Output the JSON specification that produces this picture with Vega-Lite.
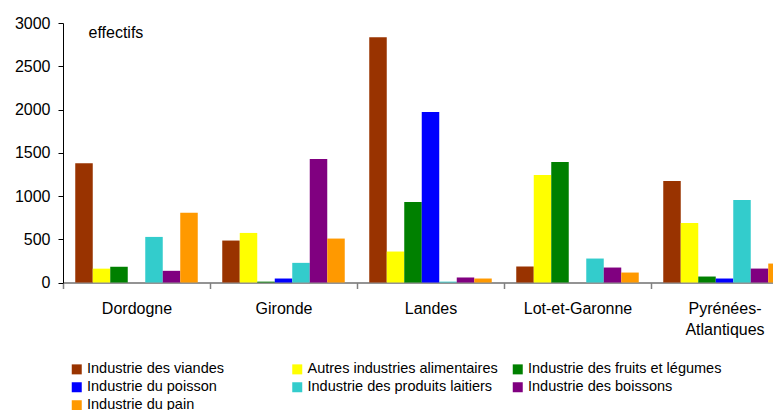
{
  "$schema": "https://vega.github.io/schema/vega-lite/v6.json",
  "autosize": {"type": "none"},
  "padding": {"left": 63, "top": 23, "right": 0, "bottom": 127.5},
  "width": 710,
  "height": 259.5,
  "background": "white",
  "config": {
    "font": "Liberation Sans",
    "view": {"stroke": null},
    "axis": {"labelColor": "#000000", "titleColor": "#000000", "grid": false}
  },
  "data": {
    "values": [
      {"departement": "Dordogne", "industrie": "Industrie des viandes", "effectifs": 1380},
      {"departement": "Dordogne", "industrie": "Autres industries alimentaires", "effectifs": 160},
      {"departement": "Dordogne", "industrie": "Industrie des fruits et légumes", "effectifs": 182},
      {"departement": "Dordogne", "industrie": "Industrie du poisson", "effectifs": 0},
      {"departement": "Dordogne", "industrie": "Industrie des produits laitiers", "effectifs": 527},
      {"departement": "Dordogne", "industrie": "Industrie des boissons", "effectifs": 135},
      {"departement": "Dordogne", "industrie": "Industrie du pain", "effectifs": 806},
      {"departement": "Gironde", "industrie": "Industrie des viandes", "effectifs": 485},
      {"departement": "Gironde", "industrie": "Autres industries alimentaires", "effectifs": 573},
      {"departement": "Gironde", "industrie": "Industrie des fruits et légumes", "effectifs": 10},
      {"departement": "Gironde", "industrie": "Industrie du poisson", "effectifs": 46},
      {"departement": "Gironde", "industrie": "Industrie des produits laitiers", "effectifs": 227},
      {"departement": "Gironde", "industrie": "Industrie des boissons", "effectifs": 1427},
      {"departement": "Gironde", "industrie": "Industrie du pain", "effectifs": 508},
      {"departement": "Landes", "industrie": "Industrie des viandes", "effectifs": 2835},
      {"departement": "Landes", "industrie": "Autres industries alimentaires", "effectifs": 358},
      {"departement": "Landes", "industrie": "Industrie des fruits et légumes", "effectifs": 931},
      {"departement": "Landes", "industrie": "Industrie du poisson", "effectifs": 1970},
      {"departement": "Landes", "industrie": "Industrie des produits laitiers", "effectifs": 10},
      {"departement": "Landes", "industrie": "Industrie des boissons", "effectifs": 58},
      {"departement": "Landes", "industrie": "Industrie du pain", "effectifs": 46},
      {"departement": "Lot-et-Garonne", "industrie": "Industrie des viandes", "effectifs": 185},
      {"departement": "Lot-et-Garonne", "industrie": "Autres industries alimentaires", "effectifs": 1243},
      {"departement": "Lot-et-Garonne", "industrie": "Industrie des fruits et légumes", "effectifs": 1393},
      {"departement": "Lot-et-Garonne", "industrie": "Industrie du poisson", "effectifs": 0},
      {"departement": "Lot-et-Garonne", "industrie": "Industrie des produits laitiers", "effectifs": 277},
      {"departement": "Lot-et-Garonne", "industrie": "Industrie des boissons", "effectifs": 173},
      {"departement": "Lot-et-Garonne", "industrie": "Industrie du pain", "effectifs": 115},
      {"departement": "Pyrénées-Atlantiques", "industrie": "Industrie des viandes", "effectifs": 1173},
      {"departement": "Pyrénées-Atlantiques", "industrie": "Autres industries alimentaires", "effectifs": 689},
      {"departement": "Pyrénées-Atlantiques", "industrie": "Industrie des fruits et légumes", "effectifs": 69},
      {"departement": "Pyrénées-Atlantiques", "industrie": "Industrie du poisson", "effectifs": 46},
      {"departement": "Pyrénées-Atlantiques", "industrie": "Industrie des produits laitiers", "effectifs": 954},
      {"departement": "Pyrénées-Atlantiques", "industrie": "Industrie des boissons", "effectifs": 161},
      {"departement": "Pyrénées-Atlantiques", "industrie": "Industrie du pain", "effectifs": 219}
    ]
  },
  "mark": {"type": "bar"},
  "encoding": {
    "x": {
      "field": "departement",
      "type": "nominal",
      "sort": ["Dordogne", "Gironde", "Landes", "Lot-et-Garonne", "Pyrénées-Atlantiques"],
      "scale": {"range": [0, 735], "paddingInner": 0, "paddingOuter": 0},
      "axis": {
        "title": null,
        "labelAngle": 0,
        "labelFontSize": 16,
        "labelPadding": 12,
        "labelLineHeight": 21,
        "labelExpr": "datum.value == 'Pyrénées-Atlantiques' ? ['Pyrénées-', 'Atlantiques'] : datum.value",
        "tickBand": "extent",
        "tickSize": 6,
        "tickColor": "#808080",
        "tickWidth": 1.5,
        "domainColor": "#808080",
        "domainWidth": 2,
        "domainOpacity": 0.85,
        "labelOverlap": false
      }
    },
    "xOffset": {
      "field": "industrie",
      "type": "nominal",
      "sort": ["Industrie des viandes", "Autres industries alimentaires", "Industrie des fruits et légumes", "Industrie du poisson", "Industrie des produits laitiers", "Industrie des boissons", "Industrie du pain"],
      "scale": {"paddingInner": 0, "paddingOuter": 0.7}
    },
    "y": {
      "field": "effectifs",
      "type": "quantitative",
      "scale": {"domain": [0, 3000], "nice": false},
      "axis": {
        "title": "effectifs",
        "titleAngle": 0,
        "titleAlign": "left",
        "titleBaseline": "alphabetic",
        "titleX": 25,
        "titleY": 14,
        "titleFontSize": 16,
        "titleFontWeight": "normal",
        "values": [0, 500, 1000, 1500, 2000, 2500, 3000],
        "format": "d",
        "labelFontSize": 16,
        "labelPadding": 8,
        "tickSize": 5,
        "tickColor": "#000000",
        "domainColor": "#000000"
      }
    },
    "color": {
      "field": "industrie",
      "type": "nominal",
      "scale": {
        "domain": ["Industrie des viandes", "Autres industries alimentaires", "Industrie des fruits et légumes", "Industrie du poisson", "Industrie des produits laitiers", "Industrie des boissons", "Industrie du pain"],
        "range": ["#993300", "#FFFF00", "#008000", "#0000FF", "#33CCCC", "#800080", "#FF9900"]
      },
      "legend": {
        "title": null,
        "orient": "none",
        "direction": "horizontal",
        "legendX": 6.5,
        "legendY": 339,
        "columns": 3,
        "gridAlign": "all",
        "columnPadding": 9.5,
        "rowPadding": 3,
        "padding": 0,
        "symbolType": "square",
        "symbolSize": 100,
        "symbolStrokeWidth": 0,
        "symbolOpacity": 1,
        "labelFontSize": 14.5,
        "labelOffset": 3,
        "labelColor": "#000000",
        "labelLimit": 300
      }
    }
  }
}
